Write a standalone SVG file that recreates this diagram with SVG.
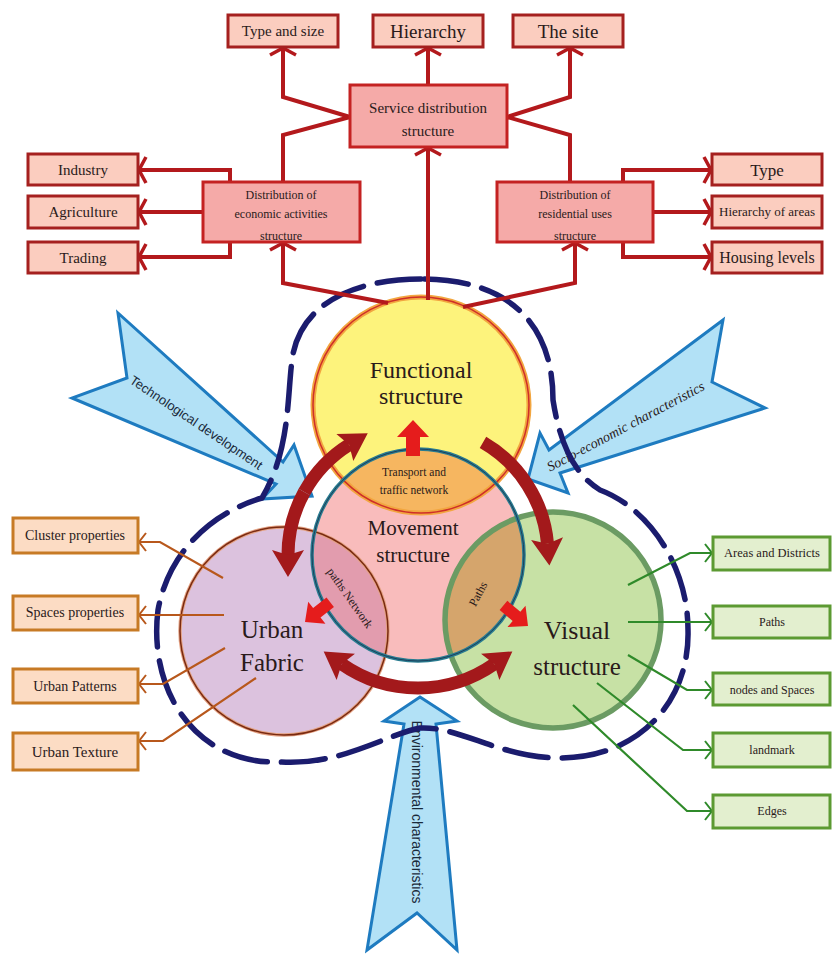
<svg xmlns="http://www.w3.org/2000/svg" width="832" height="956" viewBox="0 0 832 956">
<defs>
<style>
.rbox{fill:#fbcdbf;stroke:#a5201f;stroke-width:3}
.pbox{fill:#f5aaa8;stroke:#c42222;stroke-width:3}
.obox{fill:#fcdcc4;stroke:#c77a25;stroke-width:3}
.gbox{fill:#e3efcf;stroke:#5c9a32;stroke-width:3}
.t{font-family:"Liberation Serif","DejaVu Serif",serif;fill:#2a1a1a;text-anchor:middle}
.rl{fill:none;stroke:#b3191c;stroke-width:4;stroke-linejoin:miter}
.ol{fill:none;stroke:#b8581c;stroke-width:2.2}
.gl{fill:none;stroke:#2f8a2a;stroke-width:2.2}
.big{fill:none;stroke:#a3191b;stroke-width:13}
.blue{fill:#b2e1f6;stroke:#1e7bc0;stroke-width:3;stroke-linejoin:miter}
.bt{font-family:"Liberation Sans","DejaVu Sans",sans-serif;fill:#1a2a3a;text-anchor:middle}
.sr{fill:#e51c1c}
</style>
<marker id="ra" markerUnits="userSpaceOnUse" markerWidth="30" markerHeight="30" orient="auto" overflow="visible"><path d="M-7,-13 L0,0 L-7,13" fill="none" stroke="#b3191c" stroke-width="3.5"/></marker>
<marker id="oa" markerUnits="userSpaceOnUse" markerWidth="20" markerHeight="20" orient="auto" overflow="visible"><path d="M-7,-9 L0,0 L-7,9" fill="none" stroke="#b8581c" stroke-width="2"/></marker>
<marker id="ga" markerUnits="userSpaceOnUse" markerWidth="20" markerHeight="20" orient="auto" overflow="visible"><path d="M-7,-9 L0,0 L-7,9" fill="none" stroke="#2f8a2a" stroke-width="2"/></marker>
<marker id="bh" markerUnits="userSpaceOnUse" markerWidth="40" markerHeight="40" orient="auto" overflow="visible"><path d="M-5,-16 L22,0 L-5,16 L0,0 Z" fill="#a3191b"/></marker>
<clipPath id="cM"><circle cx="418" cy="555" r="106"/></clipPath>
</defs>

<g id="arrow-technological">
<polygon class="blue" points="118,313 283,462 294,445 312,496 262,499 276,484 72,398 127,378"/>
<text class="bt" font-size="13" transform="translate(196,423) rotate(34)" y="4">Technological development</text>
</g>
<g id="arrow-socioeconomic">
<polygon class="blue" points="723,320 549,450 540,433 528,479 568,493 560,473 765,408 712,382"/>
<text class="t" font-size="14" font-style="italic" transform="translate(626,427) rotate(-28)" y="4">Socio-economic characteristics</text>
</g>
<g id="arrow-environmental">
<polygon class="blue" points="420,697 457,721 436,724 457,950 417,913 367,950 404,724 384,721"/>
<text class="bt" font-size="14" transform="translate(416,812) rotate(90)" y="4">Environmental characteristics</text>
</g>

<g id="functional-structure">
<circle cx="421" cy="405" r="108" fill="#fdf37c"/>
</g>
<g id="movement-structure">
<circle cx="418" cy="555" r="106" fill="#f9bcbc"/>
</g>
<g id="urban-fabric">
<circle cx="284" cy="631" r="104" fill="#dcc2de"/>
</g>
<g id="visual-structure">
<circle cx="553" cy="620" r="108" fill="#c7e1a5"/>
</g>
<g id="overlaps">
<circle cx="421" cy="405" r="108" fill="#f6b660" clip-path="url(#cM)"/>
<circle cx="284" cy="631" r="104" fill="#e29cae" clip-path="url(#cM)"/>
<circle cx="553" cy="620" r="108" fill="#d5a56c" clip-path="url(#cM)"/>
</g>
<g id="circle-borders" fill="none">
<circle cx="421" cy="405" r="108" stroke="#f2a640" stroke-width="5"/>
<circle cx="421" cy="405" r="108" stroke="#cf2f28" stroke-width="1.5"/>
<circle cx="284" cy="631" r="104" stroke="#e4a284" stroke-width="3.5"/>
<circle cx="284" cy="631" r="104" stroke="#7a2a10" stroke-width="1.5"/>
<circle cx="553" cy="620" r="108" stroke="#6b9b63" stroke-width="5.5"/>
<circle cx="418" cy="555" r="106" stroke="#2a7c90" stroke-width="3.5"/>
<circle cx="418" cy="555" r="106" stroke="#1c3f5c" stroke-width="1"/>
</g>
<g id="circle-labels">
<text class="t" font-size="24" x="421" y="378">Functional</text>
<text class="t" font-size="24" x="421" y="404">structure</text>
<text class="t" font-size="11.5" x="414" y="476">Transport and</text>
<text class="t" font-size="11.5" x="414" y="494">traffic network</text>
<text class="t" font-size="21" x="413" y="535">Movement</text>
<text class="t" font-size="21" x="413" y="562">structure</text>
<text class="t" font-size="25" x="272" y="638">Urban</text>
<text class="t" font-size="25" x="272" y="671">Fabric</text>
<text class="t" font-size="26" x="577" y="639">Visual</text>
<text class="t" font-size="25" x="577" y="675">structure</text>
<text class="t" font-size="12" transform="translate(350,598) rotate(55)" y="4">paths Network</text>
<text class="t" font-size="12" transform="translate(478,594) rotate(-62)" y="4">Paths</text>
</g>

<g id="boundary">
<path d="M421,279 C360,279 300,300 292,360 C287,400 290,450 262,498 C220,510 170,545 158,610 C148,690 195,765 280,762 C340,766 385,735 420,728 C460,726 500,758 560,758 C640,758 690,700 688,630 C688,565 648,508 600,490 C575,475 560,445 553,400 C553,320 505,279 421,279 Z" fill="none" stroke="#1b1c6e" stroke-width="5.5" stroke-dasharray="44 14" stroke-linecap="round"/>
</g>

<g id="connectors">
<path class="rl" d="M350,117 L283,97 L283,48" marker-end="url(#ra)"/>
<path class="rl" d="M350,117 L283,135 L283,182"/>
<path class="rl" d="M507,117 L570,97 L570,48" marker-end="url(#ra)"/>
<path class="rl" d="M507,117 L570,135 L570,182"/>
<path class="rl" d="M428,85 L428,48" marker-end="url(#ra)"/>
<path class="rl" d="M428,300 L428,148" marker-end="url(#ra)"/>
<path class="rl" d="M388,303 L283,283 L283,243" marker-end="url(#ra)"/>
<path class="rl" d="M463,307 L575,283 L575,243" marker-end="url(#ra)"/>
<path class="rl" d="M230,182 L230,170 L139,170" marker-end="url(#ra)"/>
<path class="rl" d="M203,212 L139,212" marker-end="url(#ra)"/>
<path class="rl" d="M230,242 L230,257 L139,257" marker-end="url(#ra)"/>
<path class="rl" d="M623,182 L623,170 L711,170" marker-end="url(#ra)"/>
<path class="rl" d="M653,212 L711,212" marker-end="url(#ra)"/>
<path class="rl" d="M623,242 L623,257 L711,257" marker-end="url(#ra)"/>

<path class="ol" d="M223,578 L160,542 L139,542" marker-end="url(#oa)"/>
<path class="ol" d="M224,615 L139,615" marker-end="url(#oa)"/>
<path class="ol" d="M225,648 L163,684 L139,684" marker-end="url(#oa)"/>
<path class="ol" d="M256,678 L163,741 L139,741" marker-end="url(#oa)"/>

<path class="gl" d="M628,585 L690,553 L712,553" marker-end="url(#ga)"/>
<path class="gl" d="M628,622 L712,622" marker-end="url(#ga)"/>
<path class="gl" d="M628,655 L687,690 L712,690" marker-end="url(#ga)"/>
<path class="gl" d="M597,683 L683,750 L712,750" marker-end="url(#ga)"/>
<path class="gl" d="M573,705 L687,811 L712,811" marker-end="url(#ga)"/>

<path class="big" d="M304.3,492 A130,130 0 0 1 349.1,444.8" marker-end="url(#bh)"/>
<path class="big" d="M304.3,492 A130,130 0 0 0 288,555" marker-end="url(#bh)"/>
<path class="big" d="M483,442.4 A130,130 0 0 1 547.5,543.7" marker-end="url(#bh)"/>
<path class="big" d="M418,688 A133,133 0 0 1 341.7,664" marker-end="url(#bh)"/>
<path class="big" d="M418,688 A133,133 0 0 0 494.3,664" marker-end="url(#bh)"/>

<path class="sr" transform="translate(413,420) rotate(-90)" d="M0,0 L-17,-16 L-17,-7 L-36,-7 L-36,7 L-17,7 L-17,16 Z"/>
<path class="sr" transform="translate(305,622) rotate(142)" d="M0,0 L-15,-14 L-15,-6 L-32,-6 L-32,6 L-15,6 L-15,14 Z"/>
<path class="sr" transform="translate(528,626) rotate(40)" d="M0,0 L-15,-14 L-15,-6 L-32,-6 L-32,6 L-15,6 L-15,14 Z"/>
</g>

<g id="type-and-size"><rect class="rbox" x="228" y="15" width="110" height="32"/><text class="t" font-size="15" x="283" y="36">Type and size</text></g>
<g id="hierarchy"><rect class="rbox" x="373" y="15" width="110" height="32"/><text class="t" font-size="19" x="428" y="37.5">Hierarchy</text></g>
<g id="the-site"><rect class="rbox" x="513" y="15" width="110" height="32"/><text class="t" font-size="19" x="568" y="37.5">The site</text></g>
<g id="service-distribution"><rect class="pbox" x="350" y="85" width="157" height="62"/><text class="t" font-size="15" x="428" y="113">Service distribution</text><text class="t" font-size="15" x="428" y="136">structure</text></g>
<g id="economic-activities"><rect class="pbox" x="203" y="182" width="157" height="60"/><text class="t" font-size="12" x="281" y="199">Distribution of</text><text class="t" font-size="12" x="281" y="218">economic activities</text><text class="t" font-size="12" x="281" y="240">structure</text></g>
<g id="residential-uses"><rect class="pbox" x="497" y="182" width="156" height="60"/><text class="t" font-size="12" x="575" y="199">Distribution of</text><text class="t" font-size="12" x="575" y="218">residential uses</text><text class="t" font-size="12" x="575" y="240">structure</text></g>
<g id="industry"><rect class="rbox" x="28" y="154" width="110" height="31"/><text class="t" font-size="15" x="83" y="175">Industry</text></g>
<g id="agriculture"><rect class="rbox" x="28" y="196" width="110" height="32"/><text class="t" font-size="15" x="83" y="217">Agriculture</text></g>
<g id="trading"><rect class="rbox" x="28" y="242" width="110" height="31"/><text class="t" font-size="15" x="83" y="263">Trading</text></g>
<g id="type"><rect class="rbox" x="712" y="154" width="110" height="31"/><text class="t" font-size="17" x="767" y="176">Type</text></g>
<g id="hierarchy-of-areas"><rect class="rbox" x="712" y="196" width="110" height="32"/><text class="t" font-size="13" x="767" y="216">Hierarchy of areas</text></g>
<g id="housing-levels"><rect class="rbox" x="712" y="242" width="110" height="31"/><text class="t" font-size="16" x="767" y="263">Housing levels</text></g>

<g id="cluster-properties"><rect class="obox" x="13" y="518" width="125" height="35"/><text class="t" font-size="14" x="75" y="540">Cluster properties</text></g>
<g id="spaces-properties"><rect class="obox" x="13" y="596" width="125" height="34"/><text class="t" font-size="14" x="75" y="617">Spaces properties</text></g>
<g id="urban-patterns"><rect class="obox" x="13" y="669" width="125" height="34"/><text class="t" font-size="14" x="75" y="690.5">Urban Patterns</text></g>
<g id="urban-texture"><rect class="obox" x="13" y="733" width="125" height="37"/><text class="t" font-size="15" x="75" y="757">Urban Texture</text></g>

<g id="areas-and-districts"><rect class="gbox" x="713" y="537" width="117" height="33"/><text class="t" font-size="12.5" x="772" y="557">Areas and Districts</text></g>
<g id="paths"><rect class="gbox" x="713" y="606" width="117" height="32"/><text class="t" font-size="12" x="772" y="626">Paths</text></g>
<g id="nodes-and-spaces"><rect class="gbox" x="713" y="673" width="117" height="32"/><text class="t" font-size="12" x="772" y="694">nodes and Spaces</text></g>
<g id="landmark"><rect class="gbox" x="713" y="733" width="117" height="34"/><text class="t" font-size="12" x="772" y="754">landmark</text></g>
<g id="edges"><rect class="gbox" x="713" y="795" width="117" height="33"/><text class="t" font-size="12" x="772" y="815">Edges</text></g>
</svg>
